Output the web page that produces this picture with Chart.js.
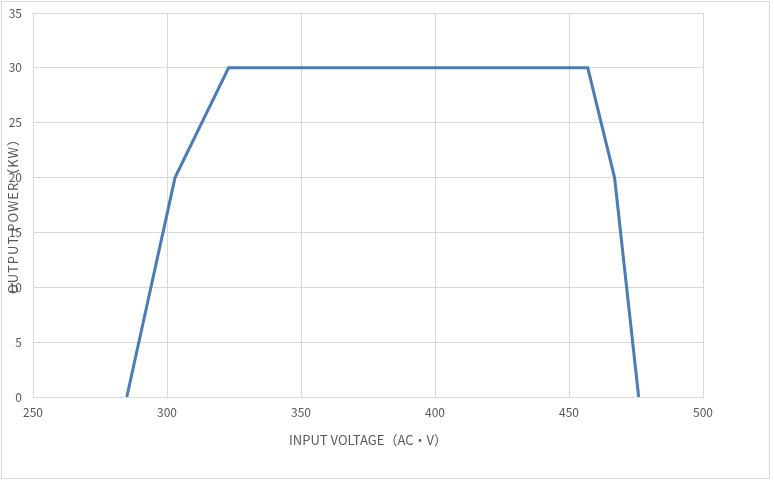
<!DOCTYPE html>
<html>
<head>
<meta charset="utf-8">
<script src="https://cdn.jsdelivr.net/npm/chart.js@4.4.1/dist/chart.umd.min.js"></script>
<style>
  html, body { margin: 0; padding: 0; background: #ffffff; }
  #wrap { width: 774px; height: 481px; position: relative; }
</style>
</head>
<body>
<div id="wrap"><canvas id="c" width="774" height="481"></canvas></div>
<script>
// Data
const voltage = [285, 303, 323, 457, 467, 476];
const power = [0, 20, 30, 30, 20, 0];
const xTitle = 'INPUT VOLTAGE（AC·V）';
const yTitle = 'OUTPUT POWER（KW）';

const FONT = '"Noto Sans CJK SC", "Noto Sans", sans-serif';
const TEXT = '#595959';
const GRID = '#d9d9d9';

const decor = {
  id: 'decor',
  beforeDraw(chart) {
    const ctx = chart.ctx;
    ctx.save();
    ctx.fillStyle = '#ffffff';
    ctx.fillRect(0, 0, chart.width, chart.height);
    ctx.strokeStyle = GRID;
    ctx.lineWidth = 1;
    ctx.strokeRect(1.5, 1.5, 768, 477);
    ctx.restore();
  },
  afterDraw(chart) {
    const ctx = chart.ctx;
    const a = chart.chartArea;
    ctx.save();
    ctx.fillStyle = TEXT;
    ctx.font = '13px ' + FONT;
    ctx.textAlign = 'center';
    ctx.textBaseline = 'middle';
    ctx.fillText(xTitle, (a.left + a.right) / 2, 440);
    ctx.translate(13, 213);
    ctx.rotate(-Math.PI / 2);
    if ('letterSpacing' in ctx) ctx.letterSpacing = '1px';
    ctx.fillText(yTitle, 0, 0);
    ctx.restore();
  }
};

new Chart(document.getElementById('c'), {
  type: 'scatter',
  data: {
    datasets: [{
      data: voltage.map((v, i) => ({ x: v, y: power[i] })),
      showLine: true,
      borderColor: '#4a7cb8',
      backgroundColor: '#4a7cb8',
      borderWidth: 3,
      pointRadius: 0,
      tension: 0,
      borderJoinStyle: 'miter'
    }]
  },
  options: {
    responsive: false,
    animation: false,
    devicePixelRatio: 1,
    layout: { padding: { left: 0, top: 13, right: 71, bottom: 0 } },
    plugins: { legend: { display: false }, tooltip: { enabled: false } },
    scales: {
      x: {
        type: 'linear', min: 250, max: 500,
        afterFit: s => { s.height = 84; s.paddingLeft = 0; s.paddingRight = 0; },
        ticks: { stepSize: 50, padding: 8, color: TEXT, font: { family: FONT, size: 12 } },
        grid: { color: GRID, drawTicks: false },
        border: { color: GRID }
      },
      y: {
        min: 0, max: 35,
        afterFit: s => { s.width = 33; s.paddingTop = 0; s.paddingBottom = 0; },
        ticks: { stepSize: 5, padding: 11, color: TEXT, font: { family: FONT, size: 12 } },
        grid: { color: GRID, drawTicks: false },
        border: { color: GRID }
      }
    }
  },
  plugins: [decor]
});
</script>
</body>
</html>
